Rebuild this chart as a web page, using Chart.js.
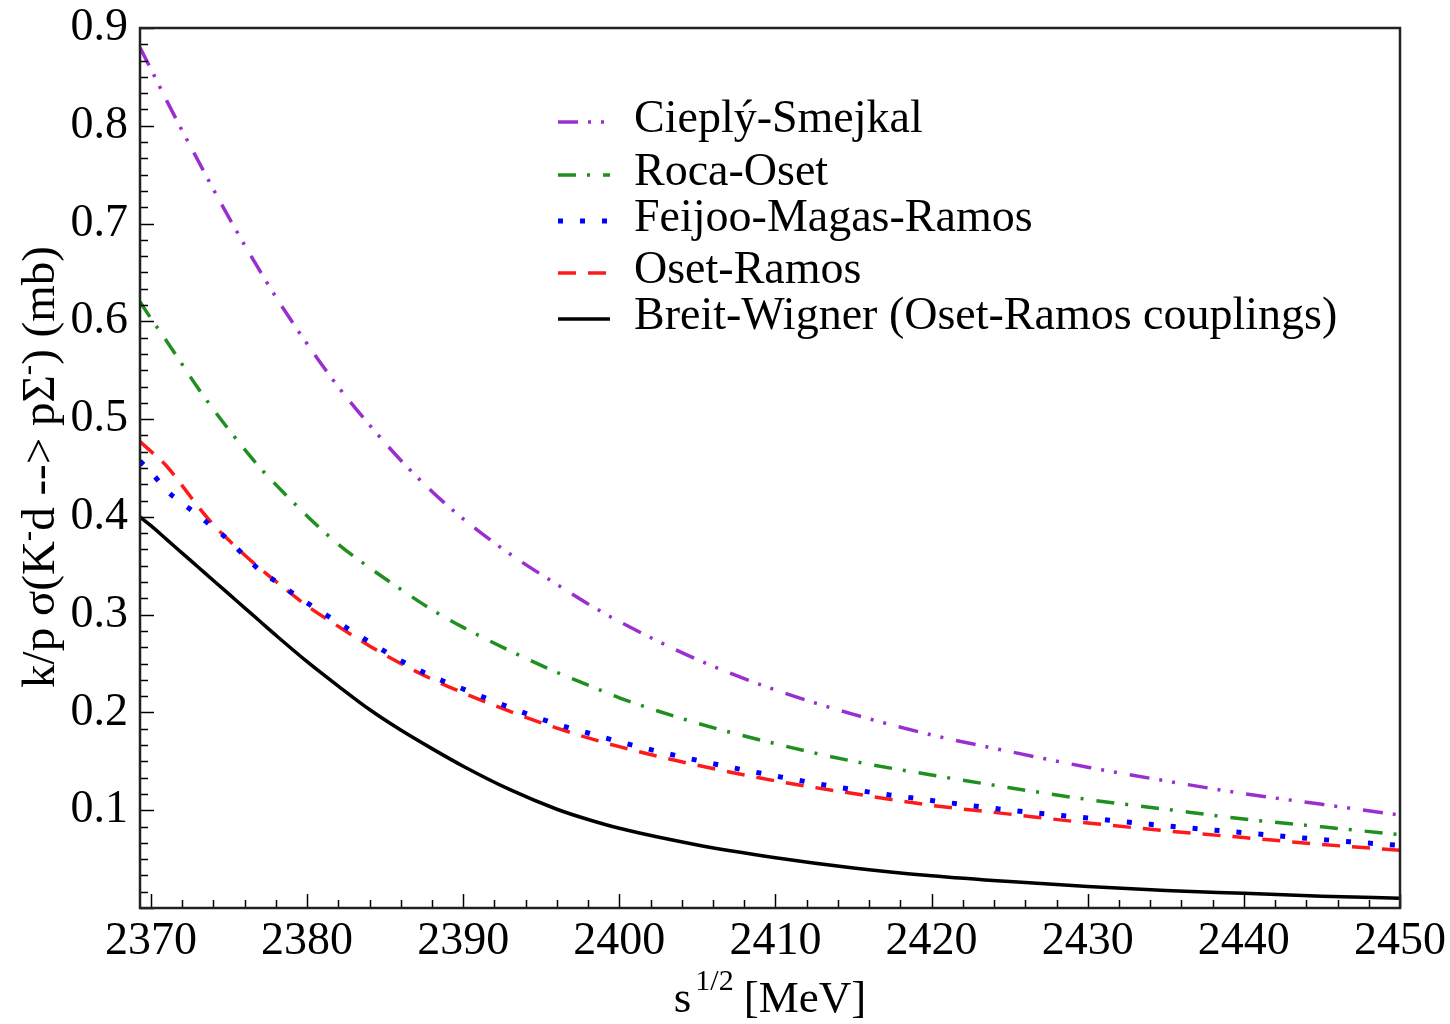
<!DOCTYPE html>
<html>
<head>
<meta charset="utf-8">
<script src="https://cdn.jsdelivr.net/npm/chart.js@4.4.1/dist/chart.umd.min.js"></script>
<style>
  html, body { margin: 0; padding: 0; background: #fff; }
  #wrap { width: 1450px; height: 1024px; position: relative; }
</style>
</head>
<body>
<div id="wrap"><canvas id="chart"></canvas></div>
<script>
// ===== Dados (s^1/2 em MeV, sigma em mb)
const sqrtS = [2369.3, 2370, 2371, 2372, 2373, 2374, 2375, 2376, 2377, 2378, 2380, 2382, 2384, 2386, 2388,
               2390, 2393, 2396, 2398, 2400, 2405, 2410, 2415, 2420, 2425, 2430, 2435, 2440, 2445, 2450];
const cieplySmejkal    = [0.880, 0.858, 0.826, 0.795, 0.765, 0.735, 0.706, 0.678, 0.651, 0.625, 0.577, 0.533, 0.494, 0.458, 0.426,
                          0.398, 0.362, 0.331, 0.311, 0.293, 0.254, 0.223, 0.198, 0.177, 0.160, 0.144, 0.130, 0.117, 0.106, 0.095];
const rocaOset         = [0.620, 0.603, 0.580, 0.556, 0.532, 0.510, 0.489, 0.469, 0.450, 0.433, 0.401, 0.372, 0.348, 0.326, 0.305,
                          0.287, 0.263, 0.241, 0.228, 0.215, 0.189, 0.168, 0.150, 0.136, 0.123, 0.111, 0.101, 0.091, 0.083, 0.075];
const feijooMagasRamos = [0.457, 0.446, 0.427, 0.414, 0.402, 0.389, 0.376, 0.360, 0.345, 0.334, 0.312, 0.292, 0.272, 0.253, 0.237,
                          0.224, 0.205, 0.188, 0.179, 0.170, 0.151, 0.135, 0.121, 0.110, 0.100, 0.092, 0.084, 0.077, 0.070, 0.064];
const osetRamos        = [0.477, 0.467, 0.452, 0.432, 0.411, 0.392, 0.376, 0.361, 0.347, 0.334, 0.309, 0.288, 0.268, 0.250, 0.234,
                          0.220, 0.201, 0.184, 0.174, 0.165, 0.146, 0.130, 0.117, 0.105, 0.096, 0.087, 0.079, 0.072, 0.065, 0.059];
const breitWigner      = [0.400, 0.391, 0.377, 0.363, 0.349, 0.335, 0.321, 0.307, 0.293, 0.279, 0.252, 0.227, 0.203, 0.182, 0.163,
                          0.145, 0.121, 0.101, 0.0905, 0.0815, 0.0645, 0.0515, 0.041, 0.033, 0.027, 0.022, 0.018, 0.015, 0.012, 0.010];

const xTicks = [2370, 2380, 2390, 2400, 2410, 2420, 2430, 2440, 2450];
const yTicks = [0.1, 0.2, 0.3, 0.4, 0.5, 0.6, 0.7, 0.8, 0.9];

const SERIF = "'Liberation Serif', 'Times New Roman', 'DejaVu Serif', serif";

// estilos de cada curva
const series = [
  { label: 'Cieplý-Smejkal', data: cieplySmejkal, color: '#9a2fd0', width: 3.5, dash: [20, 10, 3, 10, 3, 13] },
  { label: 'Roca-Oset', data: rocaOset, color: '#1f8f1f', width: 3.5, dash: [18, 11, 3, 13] },
  { label: 'Feijoo-Magas-Ramos', data: feijooMagasRamos, color: '#0000ff', width: 5, dash: [5, 17] },
  { label: 'Oset-Ramos', data: osetRamos, color: '#ff1a1a', width: 3.5, dash: [18, 12] },
  { label: 'Breit-Wigner (Oset-Ramos couplings)', data: breitWigner, color: '#000000', width: 3.5, dash: [] }
];

// ===== Moldura + ticks internos (maiores e menores)
const frameTicks = {
  id: 'frameTicks',
  afterDatasetsDraw(chart) {
    const { ctx, chartArea: a, scales: { x, y } } = chart;
    ctx.save();
    ctx.strokeStyle = '#000';
    ctx.lineWidth = 1.5;
    for (let v = 2370; v <= 2450; v += 2) {
      const px = Math.round(x.getPixelForValue(v)) + 0.5;
      const len = (v % 10 === 0) ? 14 : 8;
      ctx.beginPath(); ctx.moveTo(px, a.bottom); ctx.lineTo(px, a.bottom - len); ctx.stroke();
    }
    for (let i = 0; i <= 54; i++) {
      const py = Math.round(y.getPixelForValue(i * 0.1 / 6)) + 0.5;
      const len = (i % 6 === 0) ? 14 : 8;
      ctx.beginPath(); ctx.moveTo(a.left, py); ctx.lineTo(a.left + len, py); ctx.stroke();
    }
    ctx.lineWidth = 2.5;
    ctx.strokeStyle = '#222';
    ctx.strokeRect(a.left, a.top, a.right - a.left, a.bottom - a.top);
    ctx.restore();
  }
};

// ===== Titulos dos eixos com sobrescritos
function drawRich(ctx, parts, cx, cy, size) {
  const big = size + 'px ' + SERIF, small = Math.round(size * 0.66) + 'px ' + SERIF;
  let total = 0;
  parts.forEach(p => { ctx.font = p.sup ? small : big; p.w = ctx.measureText(p.t).width; total += p.w + (p.gap || 0); });
  let x0 = cx - total / 2;
  parts.forEach(p => {
    ctx.font = p.sup ? small : big;
    ctx.fillText(p.t, x0, cy - (p.sup ? p.rise : 0));
    x0 += p.w + (p.gap || 0);
  });
}

const axisTitles = {
  id: 'axisTitles',
  afterDraw(chart) {
    const { ctx } = chart;
    ctx.save();
    ctx.fillStyle = '#000';
    ctx.textBaseline = 'alphabetic';
    ctx.textAlign = 'left';
    drawRich(ctx, [
      { t: 's', gap: 4 },
      { t: '1/2', sup: true, rise: 22, gap: 10 },
      { t: '[MeV]' }
    ], 770, 1012, 45);

    ctx.translate(54, 467);
    ctx.rotate(-Math.PI / 2);
    drawRich(ctx, [
      { t: 'k/p σ(K' },
      { t: '-', sup: true, rise: 17 },
      { t: 'd --> pΣ' },
      { t: '-', sup: true, rise: 17 },
      { t: ') (mb)' }
    ], 0, 0, 47);
    ctx.restore();
  }
};

// ===== Legenda dentro do grafico
const legendBox = {
  id: 'legendBox',
  afterDraw(chart) {
    const { ctx } = chart;
    const rows = [120, 173, 219, 271, 317];
    ctx.save();
    ctx.font = '46px ' + SERIF;
    ctx.textBaseline = 'middle';
    ctx.textAlign = 'left';
    series.forEach((s, i) => {
      const yy = rows[i];
      ctx.strokeStyle = s.color;
      ctx.lineWidth = s.width;
      ctx.setLineDash(s.dash);
      ctx.beginPath(); ctx.moveTo(558, yy + 2); ctx.lineTo(610, yy + 2); ctx.stroke();
      ctx.setLineDash([]);
      ctx.fillStyle = '#000';
      ctx.fillText(s.label, 634, yy);
    });
    ctx.restore();
  }
};

const ctx = document.getElementById('chart');
new Chart(ctx, {
  type: 'line',
  data: {
    datasets: series.map(s => ({
      label: s.label,
      data: sqrtS.map((v, i) => ({ x: v, y: s.data[i] })),
      borderColor: s.color,
      borderWidth: s.width,
      borderDash: s.dash,
      pointRadius: 0,
      fill: false,
      cubicInterpolationMode: 'monotone'
    }))
  },
  options: {
    responsive: true,
    maintainAspectRatio: false,
    animation: false,
    layout: { padding: { top: 28, right: 50, left: 0, bottom: 0 } },
    plugins: { legend: { display: false }, tooltip: { enabled: false } },
    scales: {
      x: {
        type: 'linear',
        min: 2369.3,
        max: 2450,
        grid: { display: false, drawTicks: false },
        border: { display: false },
        afterBuildTicks: sc => { sc.ticks = xTicks.map(v => ({ value: v })); },
        afterFit: sc => { sc.height = 116; sc.paddingLeft = 0; sc.paddingRight = 0; },
        ticks: { color: '#000', font: { family: SERIF, size: 46 }, padding: 6, maxRotation: 0,
                 callback: v => String(v) }
      },
      y: {
        min: 0,
        max: 0.9,
        grid: { display: false, drawTicks: false },
        border: { display: false },
        afterBuildTicks: sc => { sc.ticks = yTicks.map(v => ({ value: v })); },
        afterFit: sc => { sc.width = 140; sc.paddingTop = 0; sc.paddingBottom = 0; },
        ticks: { color: '#000', font: { family: SERIF, size: 46 }, padding: 12,
                 callback: v => v.toFixed(1) }
      }
    }
  },
  plugins: [frameTicks, axisTitles, legendBox]
});
</script>
</body>
</html>
